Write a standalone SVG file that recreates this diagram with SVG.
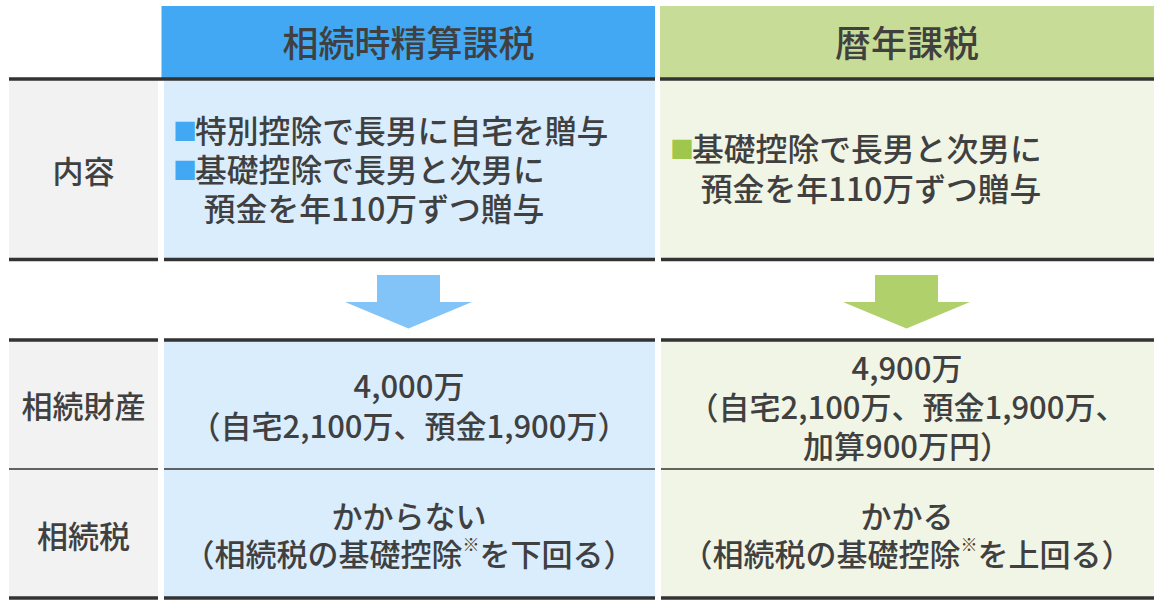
<svg xmlns="http://www.w3.org/2000/svg" width="1165" height="607" viewBox="0 0 1165 607">
<style>
text{font-family:"Noto Sans CJK JP","Noto Sans",sans-serif;fill:#404040;font-weight:500;dominant-baseline:central}
.h{font-size:36px;text-anchor:middle}
.t{font-size:31px}
.b{font-size:31.8px}
.c{text-anchor:middle}
.lab{fill:#f2f2f2}
.bc{fill:#d9edfd}
.gc{fill:#f1f5e6}
.thick{stroke:#333;stroke-width:3.5;fill:none}
.thin{stroke:#333;stroke-width:1.5;fill:none}
.bb{fill:#42a8f4;font-size:24px;letter-spacing:-2px}
.gb{fill:#9fc74e;font-size:24px;letter-spacing:-2px}
.sup{font-size:17px}
</style>
<rect width="1165" height="607" fill="#fff"/>
<g id="header-blue">
<rect x="161.5" y="6" width="493.5" height="73" fill="#42a8f4"/>
<text class="h" x="408.5" y="41">相続時精算課税</text>
</g>
<g id="header-green">
<rect x="660" y="6" width="494" height="73" fill="#c6dc97"/>
<text class="h" x="907" y="41">暦年課税</text>
</g>
<g id="label-content">
<rect class="lab" x="9" y="80" width="149" height="179"/>
<text class="t c" x="83.5" y="169">内容</text>
</g>
<g id="blue-content">
<rect class="bc" x="164" y="80" width="491" height="179"/>
<text class="b" x="173" y="129"><tspan class="bb">■</tspan>特別控除で長男に自宅を贈与</text>
<text class="b" x="173" y="168"><tspan class="bb">■</tspan>基礎控除で長男と次男に</text>
<text class="b" x="172" y="207">　預金を年110万ずつ贈与</text>
</g>
<g id="green-content">
<rect class="gc" x="660" y="80" width="494" height="179"/>
<text class="b" x="670" y="147"><tspan class="gb">■</tspan>基礎控除で長男と次男に</text>
<text class="b" x="669" y="187">　預金を年110万ずつ贈与</text>
</g>
<g id="label-estate">
<rect class="lab" x="9" y="341" width="149" height="128"/>
<text class="t c" x="83.5" y="404">相続財産</text>
</g>
<g id="blue-estate">
<rect class="bc" x="164" y="341" width="491" height="128"/>
<text class="t c" x="409" y="384">4,000万</text>
<text class="t c" x="409" y="424">（自宅2,100万、預金1,900万）</text>
</g>
<g id="green-estate">
<rect class="gc" x="661" y="341" width="493" height="128"/>
<text class="t c" x="907" y="366">4,900万</text>
<text class="t c" x="907" y="405">（自宅2,100万、預金1,900万、</text>
<text class="t c" x="907" y="444">加算900万円）</text>
</g>
<g id="label-tax">
<rect class="lab" x="9" y="469" width="149" height="128"/>
<text class="t c" x="83.5" y="534">相続税</text>
</g>
<g id="blue-tax">
<rect class="bc" x="164" y="469" width="491" height="128"/>
<text class="t c" x="409" y="514">かからない</text>
<text class="t c" x="409" y="552">（相続税の基礎控除<tspan class="sup" dy="-9">※</tspan><tspan dy="9">を下回る）</tspan></text>
</g>
<g id="green-tax">
<rect class="gc" x="661" y="469" width="493" height="128"/>
<text class="t c" x="907" y="514">かかる</text>
<text class="t c" x="907" y="552">（相続税の基礎控除<tspan class="sup" dy="-9">※</tspan><tspan dy="9">を上回る）</tspan></text>
</g>
<g id="rules">
<path class="thick" d="M9 79H655M660 79H1154"/>
<path class="thick" d="M9 259.5H158M164 259.5H655M661 259.5H1154"/>
<path class="thick" d="M9 340H158M164 340H655M661 340H1154"/>
<path class="thin" d="M9 469H158M164 469H655M661 469H1154"/>
<path class="thick" d="M9 598H158M164 598H655M661 598H1154"/>
</g>
<g id="connectors">
<polygon points="377,275 440,275 440,302 472,302 408.5,328.5 345,302 377,302" fill="#82c4f8"/>
<polygon points="875,275 938,275 938,302 970,302 906.5,328.5 843,302 875,302" fill="#b0d06b"/>
</g>
</svg>
